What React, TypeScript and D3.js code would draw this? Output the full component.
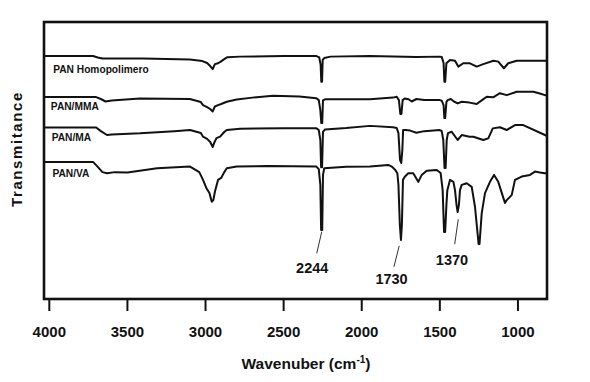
import React from "react";
import * as d3 from "d3";

// Wavenumber (cm-1) range shown on the x axis (reversed, as in IR spectra)
const xDomain: [number, number] = [4034, 814];
const xTicks = [4000, 3500, 3000, 2500, 2000, 1500, 1000];

// Series names
const seriesNames = ["PAN Homopolimero", "PAN/MMA", "PAN/MA", "PAN/VA"];

// [wavenumber, transmittance (a.u., stacked)]
const panHomo: [number, number][] = [
  [4034, 87.7], [3720, 87.7], [3690, 87.2], [3660, 86.8], [3400, 86.8], [3100, 86.5],
  [3020, 85.9], [2990, 85.2], [2970, 84.1], [2954, 83.0], [2940, 84.8], [2925, 85.0],
  [2905, 85.6], [2880, 86.6], [2860, 87.3], [2780, 87.5], [2500, 87.7], [2290, 87.7],
  [2272, 87.2], [2263, 84.5], [2259, 78.4], [2254, 78.4], [2250, 86.3], [2240, 87.0],
  [2200, 87.5], [1950, 87.7], [1650, 87.4], [1500, 87.5], [1488, 87.4], [1476, 85.2],
  [1471, 78.4], [1466, 78.4], [1458, 85.1], [1435, 86.3], [1403, 86.0], [1382, 83.9],
  [1350, 85.1], [1307, 85.1], [1264, 83.9], [1222, 84.8], [1157, 86.0], [1126, 85.7],
  [1090, 83.3], [1062, 85.1], [1008, 86.0], [814, 86.0],
];

const panMMA: [number, number][] = [
  [4034, 72.9], [3700, 72.9], [3670, 72.2], [3640, 71.3], [3600, 71.7], [3420, 72.4],
  [3100, 72.2], [3030, 71.1], [3016, 70.0], [2990, 69.3], [2970, 68.6], [2954, 67.7],
  [2940, 69.5], [2920, 70.0], [2900, 70.4], [2864, 71.2], [2800, 72.0], [2700, 72.7],
  [2568, 73.4], [2400, 73.1], [2290, 72.5], [2275, 71.8], [2265, 68.2], [2259, 63.5],
  [2253, 63.5], [2248, 71.7], [2235, 72.1], [1947, 72.1], [1800, 72.7], [1776, 73.0],
  [1762, 71.8], [1753, 66.8], [1746, 66.8], [1738, 71.8], [1725, 72.4], [1700, 72.1],
  [1680, 71.3], [1650, 72.2], [1600, 71.8], [1500, 71.8], [1488, 71.6], [1476, 70.0],
  [1471, 65.3], [1466, 65.3], [1458, 71.1], [1450, 71.8], [1430, 72.2], [1410, 71.3],
  [1386, 70.6], [1360, 71.2], [1310, 70.9], [1264, 70.4], [1230, 71.8], [1200, 73.0],
  [1159, 72.8], [1115, 74.3], [1072, 73.6], [1008, 74.8], [901, 74.8], [860, 74.2],
  [827, 73.6], [814, 73.6],
];

const panMA: [number, number][] = [
  [4034, 61.9], [3700, 61.9], [3670, 60.6], [3631, 59.2], [3600, 59.4], [3419, 59.8],
  [3200, 60.6], [3099, 61.0], [3030, 59.9], [3016, 58.6], [2990, 57.8], [2970, 56.7],
  [2954, 54.9], [2945, 56.3], [2930, 58.1], [2907, 58.6], [2880, 60.3], [2864, 61.0],
  [2779, 61.5], [2500, 61.6], [2290, 61.6], [2275, 61.0], [2265, 57.4], [2260, 47.6],
  [2254, 47.6], [2248, 60.3], [2235, 61.2], [2100, 61.7], [1947, 62.5], [1800, 62.0],
  [1776, 61.7], [1765, 59.9], [1755, 50.2], [1747, 49.1], [1740, 53.8], [1735, 61.0],
  [1720, 61.0], [1690, 60.8], [1650, 60.0], [1600, 60.6], [1500, 61.0], [1488, 60.6],
  [1478, 57.4], [1470, 47.3], [1463, 47.3], [1456, 57.4], [1448, 59.9], [1425, 60.4],
  [1386, 57.4], [1360, 59.2], [1310, 58.6], [1285, 58.6], [1222, 57.4], [1190, 58.0],
  [1161, 61.6], [1115, 62.0], [1072, 61.0], [1019, 62.8], [966, 62.8], [827, 59.2],
  [814, 58.8],
];

const panVA: [number, number][] = [
  [4034, 49.5], [3720, 49.5], [3690, 47.7], [3660, 45.8], [3631, 45.4], [3580, 45.8],
  [3500, 45.7], [3310, 47.2], [3099, 47.8], [3040, 45.8], [3016, 43.0], [2995, 40.1],
  [2975, 38.3], [2960, 35.1], [2950, 35.7], [2940, 38.7], [2920, 43.0], [2900, 43.7],
  [2880, 45.8], [2864, 47.2], [2800, 47.8], [2600, 48.0], [2290, 47.8], [2275, 46.9],
  [2265, 41.2], [2260, 24.9], [2253, 24.9], [2248, 44.8], [2240, 47.2], [2100, 47.7],
  [1947, 47.8], [1830, 48.4], [1808, 47.8], [1785, 46.6], [1772, 45.4], [1765, 41.2],
  [1756, 26.7], [1749, 21.3], [1743, 26.7], [1736, 43.0], [1723, 44.2], [1702, 45.4],
  [1670, 45.4], [1645, 43.0], [1638, 42.3], [1616, 44.8], [1584, 46.3], [1520, 46.6],
  [1495, 45.5], [1482, 39.3], [1473, 24.2], [1466, 24.2], [1458, 33.9], [1452, 39.3],
  [1435, 43.0], [1413, 42.3], [1403, 39.3], [1393, 33.9], [1386, 31.4], [1378, 33.9],
  [1371, 39.3], [1360, 41.2], [1328, 41.8], [1296, 40.5], [1275, 33.3], [1252, 19.9],
  [1246, 19.9], [1232, 30.9], [1211, 38.2], [1179, 42.3], [1153, 44.8], [1126, 42.3],
  [1093, 36.4], [1083, 34.7], [1072, 35.7], [1040, 37.5], [1019, 43.0], [976, 44.2],
  [923, 44.8], [891, 46.0], [860, 45.7], [827, 45.4], [814, 45.4],
];

// Series label anchor (wavenumber, value)
const labelWn = [3975, 3990, 3985, 3980];
const labelVal = [81.7, 68.2, 57.0, 44.0];

// Peak annotations
const annLabels = ["2244", "1730", "1370"];
const annWn = [2256, 1760, 1382];
const annVal = [24.3, 19.2, 28.8];

const W = 590;
const H = 382;
const M = { left: 44, top: 22, right: 547, bottom: 299 };
const FONT = "'Liberation Sans', Arial, Helvetica, sans-serif";

// leader-line / text layout offsets in px (style)
const annLayout = [
  { lx: -5, ly: 21.6, tx: -9.5, ty: 41.3 },
  { lx: -5.3, ly: 21, tx: -7.7, ty: 37.8 },
  { lx: -3.6, ly: 25, tx: -6.3, ty: 45.7 },
];

export default function App() {
  const x = d3.scaleLinear().domain(xDomain).range([M.left, M.right]);
  const y = d3.scaleLinear().domain([0, 100]).range([M.bottom, M.top]);
  const line = d3
    .line<[number, number]>()
    .x((d) => x(d[0]))
    .y((d) => y(d[1]));
  const series = [panHomo, panMMA, panMA, panVA];

  return (
    <svg
      width={W}
      height={H}
      style={{ position: "absolute", left: 0, top: 0, background: "#fff" }}
      fontFamily={FONT}
    >
      <rect x={0} y={0} width={W} height={H} fill="#fff" />
      {series.map((s, i) => (
        <path
          key={i}
          d={line(s) || ""}
          fill="none"
          stroke="#111"
          strokeWidth={2}
          strokeLinejoin="round"
        />
      ))}
      {seriesNames.map((n, i) => (
        <text
          key={n}
          x={x(labelWn[i])}
          y={y(labelVal[i])}
          fontSize={10.2}
          fontWeight="bold"
          fill="#111"
        >
          {n}
        </text>
      ))}
      {annLabels.map((t, i) => {
        const px = x(annWn[i]);
        const py = y(annVal[i]);
        const L = annLayout[i];
        return (
          <g key={t}>
            <line x1={px} y1={py} x2={px + L.lx} y2={py + L.ly} stroke="#333" strokeWidth={1} />
            <text
              x={px + L.tx}
              y={py + L.ty}
              textAnchor="middle"
              fontSize={14.5}
              fontWeight="bold"
              fill="#111"
            >
              {t}
            </text>
          </g>
        );
      })}
      <rect
        x={M.left}
        y={M.top}
        width={M.right - M.left}
        height={M.bottom - M.top}
        fill="none"
        stroke="#111"
        strokeWidth={2.6}
      />
      {xTicks.map((t) => (
        <g key={t}>
          <line x1={x(t)} x2={x(t)} y1={M.bottom} y2={M.bottom + 12} stroke="#111" strokeWidth={2} />
          <text x={x(t)} y={337} textAnchor="middle" fontSize={15} fontWeight="bold" fill="#111">
            {t}
          </text>
        </g>
      ))}
      <text x={306} y={369} textAnchor="middle" fontSize={15.5} fontWeight="bold" fill="#111">
        Wavenuber (cm
        <tspan dy={-6} fontSize={10}>
          -1
        </tspan>
        <tspan dy={6}>)</tspan>
      </text>
      <text
        transform="translate(21.5,149) rotate(-90)"
        textAnchor="middle"
        fontSize={15}
        fontWeight="bold"
        letterSpacing={1.6}
        fill="#111"
      >
        Transmitance
      </text>
    </svg>
  );
}
